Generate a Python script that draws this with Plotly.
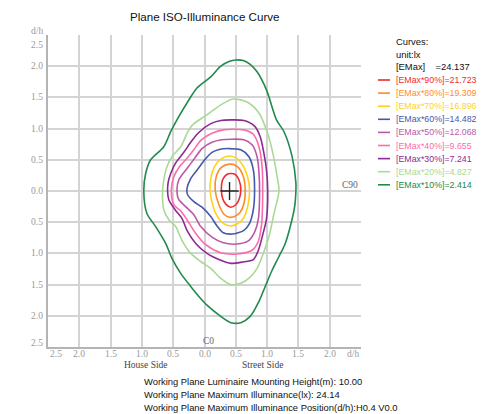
import plotly.graph_objects as go

# ---------------- data ----------------
title_text = "Plane ISO-Illuminance Curve"
emax_text = "24.137"
level_labels = ["[EMax*90%]=21.723", "[EMax*80%]=19.309", "[EMax*70%]=16.896",
                "[EMax*60%]=14.482", "[EMax*50%]=12.068", "[EMax*40%]=9.655",
                "[EMax*30%]=7.241", "[EMax*20%]=4.827", "[EMax*10%]=2.414"]
level_colors = ["#ef2b2f", "#ff8b2a", "#ffd21f", "#4458ac", "#bd58a8",
                "#ff6aae", "#8c2a92", "#aad996", "#218a4c"]

c90_x = [0.42, 0.50, 0.55, 0.58, 0.55, 0.50, 0.42, 0.34, 0.29, 0.27, 0.29, 0.35]
c90_y = [0.28, 0.26, 0.18, 0.02, -0.14, -0.22, -0.26, -0.21, -0.12, 0.02, 0.18, 0.26]

c80_x = [0.40, 0.50, 0.57, 0.63, 0.65, 0.63, 0.57, 0.48, 0.40, 0.32, 0.23, 0.17, 0.19, 0.27]
c80_y = [0.43, 0.41, 0.34, 0.20, 0.02, -0.20, -0.34, -0.41, -0.42, -0.38, -0.22, 0.02, 0.24, 0.38]

c70_x = [0.40, 0.52, 0.62, 0.69, 0.72, 0.69, 0.62, 0.52, 0.42, 0.30, 0.20, 0.13, 0.09, 0.10, 0.16, 0.26]
c70_y = [0.56, 0.52, 0.40, 0.22, 0.02, -0.25, -0.44, -0.53, -0.56, -0.52, -0.40, -0.22, 0.00, 0.20, 0.39, 0.51]

c60_x = [0.38, 0.58, 0.71, 0.78, 0.80, 0.78, 0.72, 0.63, 0.44, 0.30, 0.20, 0.10, -0.04, -0.17, -0.27,
         -0.28, -0.22, -0.10, 0.02, 0.12, 0.25]
c60_y = [0.68, 0.66, 0.55, 0.34, 0.02, -0.30, -0.52, -0.63, -0.69, -0.67, -0.56, -0.41, -0.26, -0.17, -0.06,
         0.04, 0.20, 0.36, 0.52, 0.62, 0.67]

c50_x = [0.42, 0.63, 0.76, 0.84, 0.87, 0.88, 0.86, 0.80, 0.70, 0.52, 0.30, 0.12, -0.06, -0.17, -0.30,
         -0.41, -0.44, -0.41, -0.28, -0.16, -0.04, 0.12, 0.27]
c50_y = [0.83, 0.82, 0.74, 0.55, 0.30, -0.04, -0.45, -0.66, -0.80, -0.85, -0.83, -0.74, -0.57, -0.38, -0.25,
         -0.14, 0.02, 0.18, 0.36, 0.52, 0.68, 0.78, 0.82]

c40_x = [0.44, 0.63, 0.78, 0.87, 0.92, 0.93, 0.91, 0.85, 0.76, 0.52, 0.26, 0.02, -0.14, -0.28, -0.38,
         -0.49, -0.53, -0.49, -0.40, -0.30, -0.18, -0.05, 0.16, 0.30]
c40_y = [0.99, 0.98, 0.91, 0.71, 0.39, 0.00, -0.55, -0.83, -0.95, -1.01, -0.99, -0.86, -0.68, -0.46, -0.32,
         -0.22, 0.02, 0.23, 0.39, 0.50, 0.65, 0.82, 0.94, 0.98]

c30_x = [0.42, 0.63, 0.80, 0.89, 0.95, 0.99, 1.01, 0.99, 0.93, 0.86, 0.78, 0.60, 0.42, 0.26, 0.04,
         -0.14, -0.28, -0.36, -0.47, -0.57, -0.59, -0.58, -0.54, -0.46, -0.33, -0.22, -0.10, 0.10, 0.26]
c30_y = [1.14, 1.13, 1.04, 0.87, 0.60, 0.34, 0.00, -0.45, -0.70, -0.95, -1.10, -1.14, -1.16, -1.11, -1.00,
         -0.84, -0.63, -0.44, -0.30, -0.14, 0.00, 0.14, 0.28, 0.45, 0.62, 0.78, 0.93, 1.08, 1.13]

c20_x = [0.44, 0.58, 0.71, 0.87, 1.00, 1.08, 1.16, 1.19, 1.11, 1.03, 0.92, 0.84, 0.73, 0.58, 0.42,
         0.26, 0.10, -0.06, -0.22, -0.36, -0.46, -0.57, -0.65, -0.67, -0.65, -0.60, -0.52, -0.38, -0.25,
         -0.17, 0.04, 0.26]
c20_y = [1.47, 1.46, 1.41, 1.25, 0.95, 0.66, 0.23, 0.00, -0.36, -0.73, -1.05, -1.24, -1.38, -1.48, -1.50,
         -1.40, -1.24, -1.13, -1.00, -0.79, -0.57, -0.46, -0.30, 0.00, 0.18, 0.39, 0.55, 0.71, 0.98,
         1.08, 1.22, 1.38]

c10_x = [0.50, 0.62, 0.73, 0.84, 0.99, 1.15, 1.27, 1.40, 1.46, 1.46, 1.44, 1.37, 1.29, 1.19, 1.08,
         0.97, 0.87, 0.73, 0.58, 0.42, 0.26, 0.04, -0.09, -0.22, -0.38, -0.52, -0.62, -0.78, -0.92,
         -0.97, -0.94, -0.86, -0.65, -0.54, -0.44, -0.28, -0.12, 0.10, 0.26, 0.40]
c10_y = [2.10, 2.09, 2.03, 1.91, 1.62, 1.14, 0.95, 0.55, 0.13, 0.00, -0.25, -0.57, -0.84, -1.05, -1.27,
         -1.53, -1.77, -2.01, -2.11, -2.11, -2.01, -1.83, -1.69, -1.53, -1.32, -1.08, -0.84, -0.57, -0.36,
         0.00, 0.28, 0.50, 0.71, 0.95, 1.14, 1.41, 1.65, 1.83, 2.00, 2.08]

contours_x = [c90_x, c80_x, c70_x, c60_x, c50_x, c40_x, c30_x, c20_x, c10_x]
contours_y = [c90_y, c80_y, c70_y, c60_y, c50_y, c40_y, c30_y, c20_y, c10_y]

max_pos_x = [0.4]
max_pos_y = [0.0]

tick_vals = [-2.5, -2.0, -1.5, -1.0, -0.5, 0.0, 0.5, 1.0, 1.5, 2.0, 2.5]
tick_texts = ["2.5", "2.0", "1.5", "1.0", "0.5", "0.0", "0.5", "1.0", "1.5", "2.0", "2.5"]

footer_lines = ["Working Plane Luminaire Mounting Height(m): 10.00",
                "Working Plane Maximum Illuminance(lx): 24.14",
                "Working Plane Maximum Illuminance Position(d/h):H0.4 V0.0"]

# ---------------- figure ----------------
# the page body adds an 8px margin, so the figure is drawn 8px smaller and shifted
OFF = 8
W, H = 485 - OFF, 414 - OFF
ML, MR, MT, MB = 48 - OFF, 124, 35 - OFF, 67
PW, PH = W - ML - MR, H - MT - MB


def px(x):
    return (x - OFF - ML) / PW


def py(y):
    return (H - MB - (y - OFF)) / PH


fig = go.Figure()

for cx, cy, col in zip(contours_x[::-1], contours_y[::-1], level_colors[::-1]):
    fig.add_trace(go.Scatter(
        x=cx + [cx[0]], y=cy + [cy[0]], mode="lines",
        line=dict(color=col, width=1.6, shape="spline", smoothing=0.8),
        hoverinfo="skip", showlegend=False))

fig.add_trace(go.Scatter(
    x=max_pos_x, y=max_pos_y, mode="markers",
    marker=dict(symbol="cross-thin", size=13, line=dict(color="#222222", width=1.4)),
    showlegend=False, hoverinfo="skip"))

grid_col = "#d4d4d4"
axis_col = "#b4b4b4"
fig.update_xaxes(range=[-2.5, 2.5], tickvals=tick_vals, showticklabels=False,
                 showgrid=True, gridcolor=grid_col, gridwidth=1.6, zeroline=False,
                 showline=True, linecolor=axis_col, linewidth=2, mirror=False, ticks="")
fig.update_yaxes(range=[-2.5, 2.5], tickvals=tick_vals, showticklabels=False,
                 showgrid=True, gridcolor=grid_col, gridwidth=1.6, zeroline=False,
                 showline=True, linecolor=axis_col, linewidth=2, mirror=False, ticks="")

ann = []
tick_font = dict(family="Liberation Serif", size=9.5, color="#9a9a9a")
# x tick labels
for v, t in zip(tick_vals, tick_texts):
    if v == 2.5:
        t = "d/h"
        anchor = "right"
    elif v == -2.5:
        anchor = "left"
    else:
        anchor = "center"
    ann.append(dict(x=v, y=0, xref="x", yref="paper", text=t, showarrow=False,
                    xanchor=anchor, yanchor="middle", yshift=-7, font=tick_font))
# y tick labels
for v, t in zip(tick_vals, tick_texts):
    ys = 0
    if v == 2.5:
        ys = -10
    elif v == -2.5:
        ys = 4
    ann.append(dict(x=0, y=v, xref="paper", yref="y", text=t, showarrow=False,
                    xanchor="right", yanchor="middle", xshift=-3, yshift=ys, font=tick_font))
ann.append(dict(x=0, y=2.5, xref="paper", yref="y", text="d/h", showarrow=False,
                xanchor="right", yanchor="middle", xshift=-3, yshift=4, font=tick_font))

serif_dark = dict(family="Liberation Serif", size=9.5, color="#444444")
ann.append(dict(x=2.33, y=0.1, xref="x", yref="y", text="C90", showarrow=False,
                xanchor="center", yanchor="middle",
                font=dict(family="Liberation Serif", size=9.5, color="#666666")))
ann.append(dict(x=0.07, y=-2.41, xref="x", yref="y", text="C0", showarrow=False,
                xanchor="center", yanchor="middle",
                font=dict(family="Liberation Serif", size=9.5, color="#666666")))
ann.append(dict(x=px(146), y=py(365), xref="paper", yref="paper", text="House Side",
                showarrow=False, xanchor="center", yanchor="middle", font=serif_dark))
ann.append(dict(x=px(262), y=py(365), xref="paper", yref="paper", text="Street Side",
                showarrow=False, xanchor="center", yanchor="middle", font=serif_dark))

sans = dict(family="Liberation Sans", size=9.4, color="#111111")
for i, line in enumerate(footer_lines):
    ann.append(dict(x=px(142), y=py(381 + 13 * i), xref="paper", yref="paper", text=line,
                    showarrow=False, xanchor="left", yanchor="middle", font=sans))

# title
ann.append(dict(x=px(205), y=py(17), xref="paper", yref="paper", text=title_text,
                showarrow=False, xanchor="center", yanchor="middle",
                font=dict(family="Liberation Sans", size=11.6, color="#111111")))

# legend block
LX = 394
ann.append(dict(x=px(LX), y=py(41), xref="paper", yref="paper", text="Curves:",
                showarrow=False, xanchor="left", yanchor="middle", font=sans))
ann.append(dict(x=px(LX), y=py(54), xref="paper", yref="paper", text="unit:lx",
                showarrow=False, xanchor="left", yanchor="middle", font=sans))
ann.append(dict(x=px(LX), y=py(67), xref="paper", yref="paper",
                text="[EMax]    =" + emax_text,
                showarrow=False, xanchor="left", yanchor="middle", font=sans))
shapes = []
for i, (lab, col) in enumerate(zip(level_labels, level_colors)):
    yy = 80 + 13.1 * i
    ann.append(dict(x=px(LX), y=py(yy), xref="paper", yref="paper", text=lab,
                    showarrow=False, xanchor="left", yanchor="middle",
                    font=dict(family="Liberation Sans", size=8.8, color=col)))
    shapes.append(dict(type="line", xref="paper", yref="paper",
                       x0=px(378), x1=px(390), y0=py(yy), y1=py(yy),
                       line=dict(color=col, width=1.6)))

fig.update_layout(width=W, height=H, margin=dict(l=ML, r=MR, t=MT, b=MB),
                  paper_bgcolor="white", plot_bgcolor="white",
                  annotations=ann, shapes=shapes, showlegend=False)

fig.write_html("out.html")
